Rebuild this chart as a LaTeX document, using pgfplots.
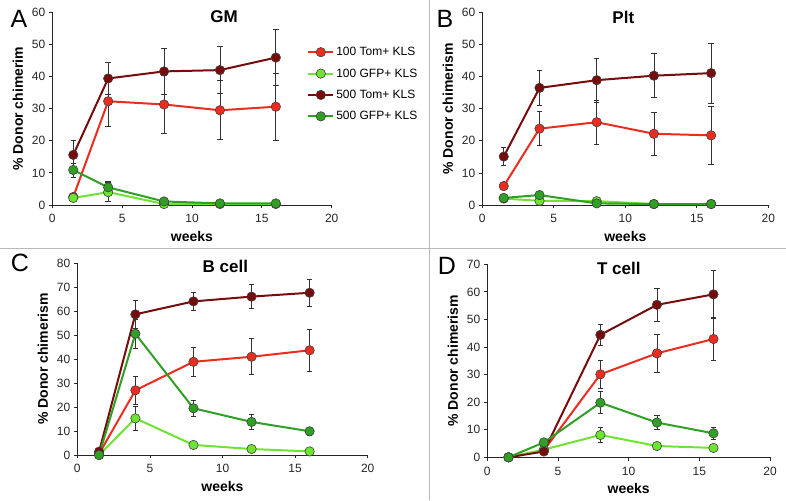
\documentclass[border=0pt]{standalone}
\usepackage{pgfplots}
\pgfplotsset{compat=1.18}
\usepackage{pgfplotstable}
\usepackage{fontspec}
\setmainfont{Liberation Sans}

\definecolor{tomred}{RGB}{235,45,32}
\definecolor{gfplight}{RGB}{110,228,50}
\definecolor{tomdark}{RGB}{118,12,12}
\definecolor{gfpdark}{RGB}{48,160,36}

% columns: x, 100 Tom+, err, 100 GFP+, err, 500 Tom+, err, 500 GFP+, err
\pgfplotstableread{
x    ta   tae  ga   gae  tb   tbe  gb   gbe
1.5  2.5  0.0  2.2  0.5  15.6 4.4  10.9 2.2
4    32.3 7.8  4.0  3.0  39.4 5.0  5.5  1.8
8    31.3 9.0  0.3  0.2  41.6 7.2  1.1  0.5
12   29.5 9.2  0.3  0.1  42.0 7.3  0.5  0.2
16   30.6 10.5 0.3  0.1  45.9 8.8  0.5  0.2
}\dataGM
\pgfplotstableread{
x    ta   tae  ga   gae  tb   tbe  gb   gbe
1.5  5.9  0.5  2.0  0.3  15.1 2.8  2.2  0.5
4    23.8 5.3  1.3  0.3  36.5 5.5  3.1  1.0
8    25.8 6.8  1.2  0.3  38.9 6.9  0.5  0.2
12   22.2 6.8  0.3  0.1  40.3 6.9  0.3  0.1
16   21.7 9.0  0.3  0.1  41.1 9.3  0.3  0.1
}\dataPlt
\pgfplotstableread{
x    ta   tae  ga   gae  tb   tbe  gb   gbe
1.5  0.5  0.2  0.0  0.0  1.4  0.5  0.0  0.0
4    27.0 6.0  15.3 5.0  58.7 6.0  50.6 6.0
8    38.9 6.1  4.2  0.8  64.1 3.9  19.5 3.5
12   41.0 7.5  2.5  0.5  66.1 5.1  13.8 3.0
16   43.7 8.6  1.5  0.5  67.7 5.6  9.9  1.8
}\dataB
\pgfplotstableread{
x    ta   tae  ga   gae  tb   tbe  gb   gbe
1.5  0.0  0.0  0.0  0.0  0.0  0.0  0.0  0.0
4    2.5  0.5  2.8  0.5  2.1  0.5  5.4  1.0
8    30.1 5.0  8.1  2.8  44.4 3.7  19.8 4.0
12   37.7 6.9  4.1  0.6  55.3 5.9  12.6 2.5
16   42.9 7.9  3.4  0.5  59.1 8.6  8.7  2.1
}\dataT

\pgfplotsset{
  panel/.style={
    scale only axis, xmin=0, xmax=20, ymin=0,
    axis lines=left, axis line style={-, black!85, line width=0.8pt},
    tick align=outside, major tick length=3.5pt,
    tick style={black!85, line width=0.8pt},
    xtick={0,5,10,15,20},
    ticklabel style={font=\fontsize{12}{12}\selectfont, text=black!85},
    xticklabel style={yshift=-2.5pt},
    /pgf/number format/assume math mode=true,
    xlabel={weeks},
    xlabel style={font=\fontsize{14}{14}\selectfont\bfseries, yshift=-1pt},
    ylabel style={font=\fontsize{14}{14}\selectfont\bfseries, yshift=2pt},
    clip=false,
  },
  s/.style={line width=2pt, color=#1, mark=*, mark size=4.7pt,
    mark options={fill=#1, draw=black!75, line width=0.6pt}},
  eb/.style={error bars/.cd, y dir=both, y explicit,
    error bar style={black!80, line width=0.7pt},
    error mark options={rotate=90, mark size=2.7pt, black!80, line width=0.7pt}},
}

\begin{document}
\begin{tikzpicture}
\useasboundingbox (0,0) rectangle (786pt,500pt);
\draw[gray!55, line width=1pt] (429pt,0pt) -- (429pt,500pt);
\draw[gray!55, line width=1pt] (0pt,251pt) -- (786pt,251pt);

% ---- A: GM
\begin{axis}[panel, at={(52.3pt,295pt)}, anchor=south west,
  width=279.4pt, height=192.7pt, ymax=60, ytick={0,10,...,60},
  ylabel={\% Donor chimerim},
  legend style={at={(0.912,0.83)}, anchor=north west, draw=none, fill=none,
    inner sep=0pt, font=\fontsize{12}{12}\selectfont, row sep=7.5pt,
    /tikz/every even column/.append style={column sep=2pt}},
  legend cell align=left,
  legend image code/.code={\draw[#1, mark repeat=2, mark phase=2] plot coordinates {(0pt,0pt) (12.5pt,0pt) (25pt,0pt)};}]
\addplot[s=tomred, eb] table[x=x, y=ta, y error=tae] {\dataGM};
\addlegendentry{100 Tom+ KLS}
\addplot[s=gfplight, eb] table[x=x, y=ga, y error=gae] {\dataGM};
\addlegendentry{100 GFP+ KLS}
\addplot[s=tomdark, eb] table[x=x, y=tb, y error=tbe] {\dataGM};
\addlegendentry{500 Tom+ KLS}
\addplot[s=gfpdark, eb] table[x=x, y=gb, y error=gbe] {\dataGM};
\addlegendentry{500 GFP+ KLS}
\node[font=\fontsize{17}{17}\selectfont\bfseries] at (axis cs:12.3,58.5) {GM};
\end{axis}

% ---- B: Plt
\begin{axis}[panel, at={(482.3pt,295pt)}, anchor=south west,
  width=286pt, height=192.5pt, ymax=60, ytick={0,10,...,60},
  ylabel={\% Donor chimerism}]
\addplot[s=tomred, eb] table[x=x, y=ta, y error=tae] {\dataPlt};
\addplot[s=gfplight, eb] table[x=x, y=ga, y error=gae] {\dataPlt};
\addplot[s=tomdark, eb] table[x=x, y=tb, y error=tbe] {\dataPlt};
\addplot[s=gfpdark, eb] table[x=x, y=gb, y error=gbe] {\dataPlt};
\node[font=\fontsize{17}{17}\selectfont\bfseries] at (axis cs:9.86,58.5) {Plt};
\end{axis}

% ---- C: B cell
\begin{axis}[panel, at={(77.3pt,45pt)}, anchor=south west,
  width=290.4pt, height=191.7pt, ymax=80, ytick={0,10,...,80},
  ylabel={\% Donor chimerism}]
\addplot[s=tomred, eb] table[x=x, y=ta, y error=tae] {\dataB};
\addplot[s=gfplight, eb] table[x=x, y=ga, y error=gae] {\dataB};
\addplot[s=tomdark, eb] table[x=x, y=tb, y error=tbe] {\dataB};
\addplot[s=gfpdark, eb] table[x=x, y=gb, y error=gbe] {\dataB};
\node[font=\fontsize{17}{17}\selectfont\bfseries] at (axis cs:10.2,78.9) {B cell};
\end{axis}

% ---- D: T cell
\begin{axis}[panel, at={(487.3pt,42.7pt)}, anchor=south west,
  width=282.7pt, height=193pt, ymax=70, ytick={0,10,...,70},
  ylabel={\% Donor chimerism}]
\addplot[s=tomred, eb] table[x=x, y=ta, y error=tae] {\dataT};
\addplot[s=gfplight, eb] table[x=x, y=ga, y error=gae] {\dataT};
\addplot[s=tomdark, eb] table[x=x, y=tb, y error=tbe] {\dataT};
\addplot[s=gfpdark, eb] table[x=x, y=gb, y error=gbe] {\dataT};
\node[font=\fontsize{17}{17}\selectfont\bfseries] at (axis cs:9.3,68.5) {T cell};
\end{axis}

\node[font=\fontsize{25}{25}\selectfont] at (19pt,481pt) {A};
\node[font=\fontsize{25}{25}\selectfont] at (445pt,481pt) {B};
\node[font=\fontsize{25}{25}\selectfont] at (20pt,237pt) {C};
\node[font=\fontsize{25}{25}\selectfont] at (447pt,234pt) {D};
\end{tikzpicture}
\end{document}
